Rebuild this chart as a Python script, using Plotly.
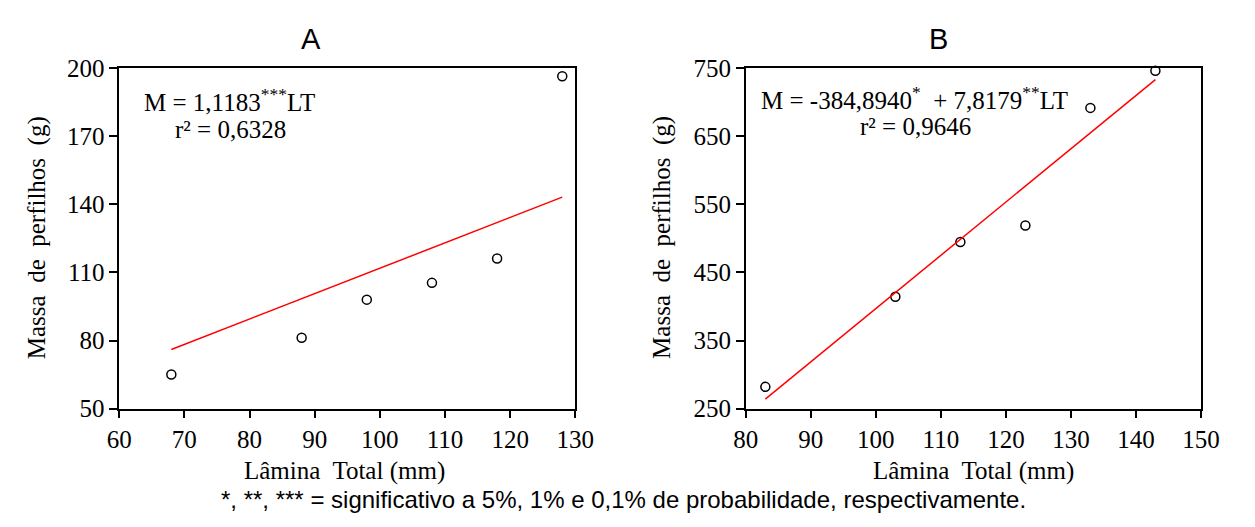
import plotly.graph_objects as go

W, H = 1255, 527

# ---- data ----
lamina_a = [68, 88, 98, 108, 118, 128]
massa_a = [65.0, 81.2, 98.0, 105.4, 116.1, 196.4]
fit_a_x = [68, 128]
coef_a_intercept, coef_a_slope = 0.0, 1.1183

lamina_b = [83, 103, 113, 123, 133, 143]
massa_b = [282.0, 414.3, 494.7, 518.8, 691.5, 746.0]
fit_b_x = [83, 143]
coef_b_intercept, coef_b_slope = -384.8940, 7.8179

fit_a_y = [coef_a_intercept + coef_a_slope * x for x in fit_a_x]
fit_b_y = [coef_b_intercept + coef_b_slope * x for x in fit_b_x]

SERIF = "Times New Roman, Liberation Serif, serif"
SANS = "Arial, Liberation Sans, sans-serif"

def px(x):
    return x / W

def py(y):
    return 1 - y / H

fig = go.Figure()
marker = dict(symbol="circle-open", size=9, color="black", line=dict(width=1.5, color="black"))
fig.add_trace(go.Scatter(x=lamina_a, y=massa_a, mode="markers", marker=marker,
                         xaxis="x", yaxis="y", cliponaxis=False, showlegend=False))
fig.add_trace(go.Scatter(x=fit_a_x, y=fit_a_y, mode="lines", line=dict(color="#ff0000", width=1.5),
                         xaxis="x", yaxis="y", showlegend=False))
fig.add_trace(go.Scatter(x=lamina_b, y=massa_b, mode="markers", marker=marker,
                         xaxis="x2", yaxis="y2", cliponaxis=False, showlegend=False))
fig.add_trace(go.Scatter(x=fit_b_x, y=fit_b_y, mode="lines", line=dict(color="#ff0000", width=1.5),
                         xaxis="x2", yaxis="y2", showlegend=False))

axis_common = dict(showline=True, linecolor="black", linewidth=1.5, mirror=True,
                   ticks="outside", ticklen=8, tickwidth=1.5, tickcolor="black",
                   showgrid=False, zeroline=False,
                   tickfont=dict(family=SERIF, size=25, color="black"))

ydom = [py(417), py(58)]
fig.update_layout(
    width=W, height=H,
    margin=dict(l=0, r=0, t=0, b=0),
    paper_bgcolor="white", plot_bgcolor="white",
    font=dict(family=SERIF, color="black"),
    xaxis=dict(domain=[px(109), px(577)], range=[60, 130], dtick=10, tick0=60, anchor="y", **axis_common),
    yaxis=dict(domain=ydom, range=[50, 200], dtick=30, tick0=50, anchor="x", **axis_common),
    xaxis2=dict(domain=[px(752), px(1219)], range=[80, 150], dtick=10, tick0=80, anchor="y2", **axis_common),
    yaxis2=dict(domain=ydom, range=[250, 750], dtick=100, tick0=250, anchor="x2", **axis_common),
)

def ann(text, x, y, size=25, family=SERIF, angle=0):
    fig.add_annotation(text=text, x=px(x), y=py(y), xref="paper", yref="paper",
                       xanchor="center", yanchor="middle", showarrow=False, textangle=angle,
                       font=dict(family=family, size=size, color="black"))

ann("A", 306, 27, size=29, family=SANS)
ann("B", 950, 27, size=29, family=SANS)
ann("M = 1,1183<sup>***</sup>LT", 222, 92)
ann("r² = 0,6328", 223, 123)
ann("M = -384,8940<sup>*</sup>  + 7,8179<sup>**</sup>LT", 925, 90)
ann("r² = 0,9646", 926, 120)
ylab = "Massa\u00a0\u00a0de\u00a0\u00a0perfilhos\u00a0\u00a0(g)"
ann(ylab, 24, 237, angle=-90)
ann(ylab, 666, 237, angle=-90)
ann("Lâmina\u00a0 Total (mm)", 340, 483)
ann("Lâmina\u00a0 Total (mm)", 986, 483)
ann("*, **, *** = significativo a 5%, 1% e 0,1% de probabilidade, respectivamente.", 626, 513,
    size=24, family=SANS)

fig.write_html("out.html")
